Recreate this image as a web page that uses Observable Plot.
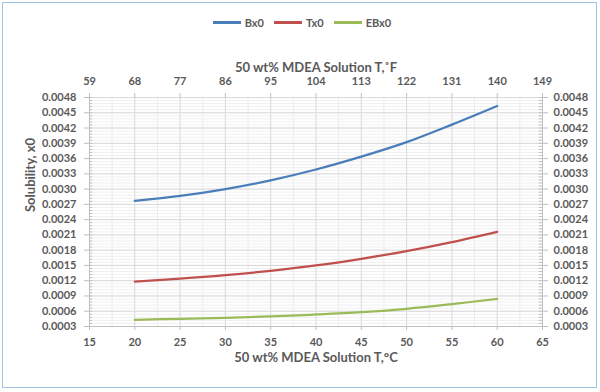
<!DOCTYPE html>
<html><head><meta charset="utf-8">
<script src="https://cdn.jsdelivr.net/npm/d3@7"></script>
<script src="https://cdn.jsdelivr.net/npm/@observablehq/plot@0.6"></script>
<style>
body{margin:0;background:#fff;font-family:Lato,"Open Sans",sans-serif;}
#wrap{position:relative;width:600px;height:392px;overflow:hidden;background:#fff}
#border{position:absolute;left:2px;top:2px;width:595px;height:386px;border:1.5px solid #9dc3e6;box-sizing:border-box;pointer-events:none}
#legend{height:36px;display:flex;justify-content:center;align-items:center;gap:10px;font-size:11px;font-weight:bold;color:#595959;padding-top:8px;box-sizing:border-box;padding-left:4px}
.item{display:flex;align-items:center}
.sw{width:28px;height:3px;margin-right:4px}
svg{display:block}
</style></head>
<body>
<div id="wrap"><div id="legend"></div><div id="chart"></div><div id="border"></div></div>
<script>
const temps = [20, 25, 30, 35, 40, 45, 50, 55, 60];
const bx0  = [0.00277, 0.002866, 0.0030, 0.003173, 0.003385, 0.003637, 0.003922, 0.004267, 0.004633];
const tx0  = [0.001184, 0.001243, 0.00131, 0.001395, 0.001499, 0.00163, 0.001782, 0.001959, 0.002161];
const ebx0 = [0.000432, 0.000452, 0.000471, 0.000497, 0.000536, 0.000583, 0.000648, 0.00074, 0.000844];
const seriesNames = ["Bx0", "Tx0", "EBx0"];
const seriesColors = ["#4a7ebb", "#c0504d", "#9bbb59"];
const xTicks = [15, 20, 25, 30, 35, 40, 45, 50, 55, 60, 65];
const yTicks = [0.0003, 0.0006, 0.0009, 0.0012, 0.0015, 0.0018, 0.0021, 0.0024, 0.0027, 0.0030, 0.0033, 0.0036, 0.0039, 0.0042, 0.0045, 0.0048];
const xTitleBottom = "50 wt% MDEA Solution T,\u00B0C";
const xTitleTop = "50 wt% MDEA Solution T,\u02DAF";
const yTitle = "Solubility, x0";

const seriesVals = [bx0, tx0, ebx0];
const rows = [];
seriesNames.forEach((s, k) => temps.forEach((t, i) => rows.push({series: s, t, v: seriesVals[k][i]})));

const minorY = d3.range(0.0003, 0.00481, 0.00006);
const minorX = d3.range(17.5, 65, 5);

const legend = document.getElementById("legend");
seriesNames.forEach((s, k) => {
  const it = document.createElement("div"); it.className = "item";
  it.innerHTML = `<span class="sw" style="background:${seriesColors[k]}"></span><span>${s}</span>`;
  legend.appendChild(it);
});

const fmt = d => d.toFixed(4);
const plot = Plot.plot({
  width: 600, height: 356,
  marginLeft: 89, marginRight: 58, marginTop: 61, marginBottom: 66,
  x: {domain: [15, 65]},
  y: {domain: [0.0003, 0.0048]},
  color: {domain: seriesNames, range: seriesColors},
  style: {fontFamily: "Lato, 'Open Sans', sans-serif", fontSize: "11px", fontWeight: "bold", color: "#595959", background: "transparent"},
  marks: [
    Plot.ruleY(minorY, {stroke: "#f0f0f0", strokeWidth: 1}),
    Plot.ruleX(minorX, {stroke: "#ececec", strokeWidth: 1}),
    Plot.ruleY(yTicks, {stroke: "#d9d9d9", strokeWidth: 1}),
    Plot.ruleX(xTicks, {stroke: "#d9d9d9", strokeWidth: 1}),
    Plot.ruleY(minorY, {x1: 15, x2: 15.35, stroke: "#bfbfbf"}),
    Plot.ruleY(minorY, {x1: 64.65, x2: 65, stroke: "#bfbfbf"}),
    Plot.ruleX([15, 65], {stroke: "#bfbfbf"}),
    Plot.ruleY([0.0003], {stroke: "#bfbfbf"}),
    Plot.axisY({anchor: "left", ticks: yTicks, tickFormat: fmt, tickSize: 5, tickPadding: 8, label: null, stroke: "#bfbfbf", fill: "#595959"}),
    Plot.axisY({anchor: "right", ticks: yTicks, tickFormat: fmt, tickSize: 5, tickPadding: 6, label: null, stroke: "#bfbfbf", fill: "#595959"}),
    Plot.axisX({anchor: "bottom", ticks: xTicks, tickFormat: d => d, tickSize: 4, tickPadding: 8, label: null, stroke: "#bfbfbf", fill: "#595959"}),
    Plot.axisX({anchor: "top", ticks: xTicks, tickFormat: d => Math.round(d * 1.8 + 32), tickSize: 5, tickPadding: 8, label: null, stroke: "#bfbfbf", fill: "#595959"}),
    Plot.line(rows, {x: "t", y: "v", z: "series", stroke: "series", strokeWidth: 2.25, curve: "catmull-rom"}),
    Plot.text([xTitleBottom], {frameAnchor: "bottom", dy: 35, fontSize: 13, fill: "#595959"}),
    Plot.text([xTitleTop], {frameAnchor: "top", dy: -35, fontSize: 13, fill: "#595959"}),
    Plot.text([yTitle], {frameAnchor: "left", dx: -59, rotate: -90, fontSize: 13, fill: "#595959"})
  ]
});
document.getElementById("chart").appendChild(plot);
</script>
</body></html>
